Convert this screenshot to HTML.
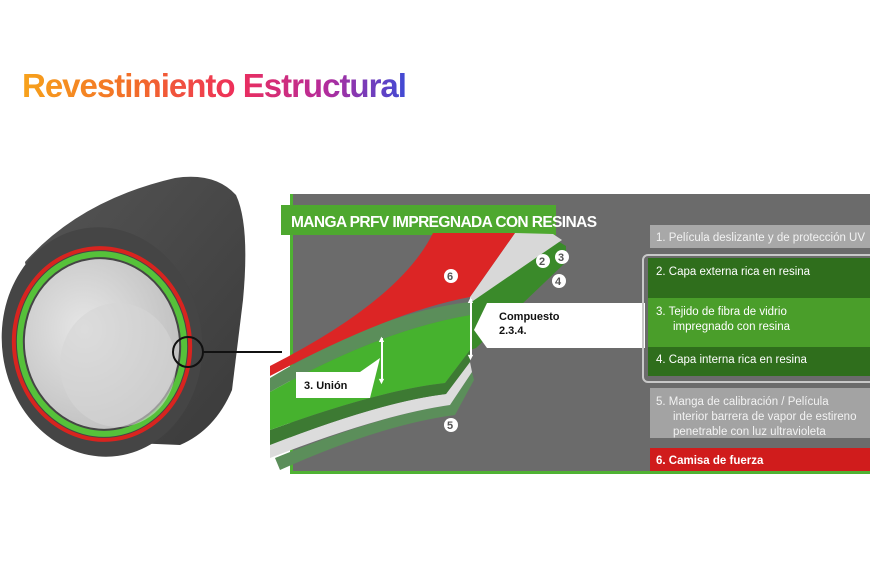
<!DOCTYPE html>
<html><head><meta charset="utf-8"><style>
html,body{margin:0;padding:0;background:#fff}
svg{display:block}
text{font-family:"Liberation Sans",sans-serif}
</style></head><body>
<svg width="870" height="580" viewBox="0 0 870 580" xmlns="http://www.w3.org/2000/svg">
<defs>
<linearGradient id="tg" x1="22" y1="0" x2="408" y2="0" gradientUnits="userSpaceOnUse">
<stop offset="0" stop-color="#f7a21b"/><stop offset="0.3" stop-color="#f26b2a"/><stop offset="0.55" stop-color="#ee2f5a"/><stop offset="0.78" stop-color="#b62b9a"/><stop offset="1" stop-color="#3d4bd6"/></linearGradient>
<radialGradient id="inner" cx="0.4" cy="0.4" r="0.7"><stop offset="0" stop-color="#e6e6e6"/><stop offset="1" stop-color="#bdbdbd"/></radialGradient>
<linearGradient id="body" x1="0" y1="0" x2="1" y2="1"><stop offset="0" stop-color="#555"/><stop offset="1" stop-color="#3a3a3a"/></linearGradient>
</defs>
<rect width="870" height="580" fill="#fff"/>
<text x="22" y="97" font-size="33" font-weight="bold" fill="url(#tg)" letter-spacing="-1">Revestimiento Estructural</text>

<!-- tube -->
<path d="M25 262 Q80 200 175 178 Q215 172 236 195 Q250 225 243 300 L232 390 Q215 430 180 445 L60 440 Z" fill="url(#body)"/>
<ellipse cx="102" cy="342" rx="100" ry="115" transform="rotate(-8 102 342)" fill="#454545"/>
<ellipse cx="102" cy="344" rx="88" ry="96" transform="rotate(-8 102 344)" fill="none" stroke="#d8241f" stroke-width="4"/>
<ellipse cx="102" cy="344" rx="82" ry="90" transform="rotate(-8 102 344)" fill="none" stroke="#56c13a" stroke-width="6"/>
<ellipse cx="102" cy="344" rx="77" ry="85" transform="rotate(-8 102 344)" fill="url(#inner)"/>
<ellipse cx="118" cy="365" rx="58" ry="62" fill="#d6d6d6" opacity="0.6"/>
<circle cx="188" cy="352" r="15" fill="none" stroke="#111" stroke-width="2"/>
<line x1="203" y1="352" x2="282" y2="352" stroke="#111" stroke-width="2"/>

<!-- panel -->
<rect x="290" y="194" width="580" height="280" fill="#6b6b6b"/>
<rect x="290" y="194" width="3" height="280" fill="#4fb233"/>
<rect x="290" y="471" width="580" height="3" fill="#4fb233"/>
<rect x="281" y="205" width="275" height="30" fill="#4ea82f"/>
<text x="291" y="227" font-size="15.5" font-weight="bold" fill="#fff" letter-spacing="-0.6">MANGA PRFV IMPREGNADA CON RESINAS</text>

<!-- layers -->
<path d="M275 458 Q380 415 450 405 L472 372 L474 380 L455 415 Q380 425 280 470 Z" fill="#5b8e5a"/>
<path d="M270 445 Q380 402 446 394 L470 362 L472 372 L450 405 Q380 415 270 458 Z" fill="#dcdcdc"/>
<path d="M270 430 Q380 390 445 383 L470 350 L470 362 L446 394 Q380 402 270 445 Z" fill="#3d7a33"/>
<path d="M270 392 Q380 330 470 315 L470 350 L445 383 Q380 390 270 430 Z" fill="#46b22e"/>
<path d="M270 378 Q380 312 470 302 L470 315 Q380 330 270 392 Z" fill="#5b8e5a"/>
<path d="M470 302 L556 240 L566 246 L566 262 L476 348 L470 350 Z" fill="#3a8a2a"/>
<path d="M470 297 L515 233 L553 234 L562 240 L470 303 Z" fill="#d8d8d8"/>
<path d="M270 366 Q400 300 433 233 L515 233 L470 297 Q390 312 270 376 Z" fill="#dc2525"/>
<g font-size="11" font-weight="bold" fill="#555">
<circle cx="451" cy="276" r="7" fill="#fff"/><text x="447" y="280">6</text>
<circle cx="543" cy="261" r="7" fill="#fff"/><text x="539" y="265">2</text>
<circle cx="562" cy="257" r="7" fill="#fff"/><text x="558" y="261">3</text>
<circle cx="559" cy="281" r="7" fill="#fff"/><text x="555" y="285">4</text>
<circle cx="451" cy="425" r="7" fill="#fff"/><text x="447" y="429">5</text>
</g>
<!-- callouts -->
<polygon points="487,303 645,303 645,348 487,348 474,330" fill="#fff"/>
<line x1="471" y1="299" x2="471" y2="357" stroke="#fff" stroke-width="2"/>
<text x="466" y="303" font-size="9" fill="#fff">▲</text><text x="466" y="360" font-size="9" fill="#fff">▼</text>
<text x="499" y="320" font-size="11" font-weight="bold" fill="#111">Compuesto</text>
<text x="499" y="334" font-size="11" font-weight="bold" fill="#111">2.3.4.</text>
<polygon points="296,372 360,372 380,358 370,398 296,398" fill="#fff"/>
<line x1="382" y1="338" x2="382" y2="381" stroke="#fff" stroke-width="2"/>
<text x="377" y="342" font-size="9" fill="#fff">▲</text><text x="377" y="384" font-size="9" fill="#fff">▼</text>
<text x="304" y="389" font-size="11" font-weight="bold" fill="#111">3.   Unión</text>

<!-- list -->
<rect x="650" y="225" width="220" height="23" fill="#a8a8a8"/>
<text x="656" y="241" font-size="11.5" fill="#f2f2f2">1.  Película deslizante y de protección UV</text>
<rect x="643" y="255" width="235" height="127" rx="5" fill="none" stroke="#c8c8c8" stroke-width="2"/>
<rect x="648" y="258" width="222" height="40" fill="#2f6e1c"/>
<rect x="648" y="298" width="222" height="49" fill="#4a9e2a"/>
<rect x="648" y="347" width="222" height="29" fill="#2f6e1c"/>
<g font-size="11.5" fill="#fff">
<text x="656" y="275">2.  Capa externa rica en resina</text>
<text x="656" y="315">3.  Tejido de fibra de vidrio</text>
<text x="673" y="330">impregnado con resina</text>
<text x="656" y="363">4.  Capa interna rica en resina</text>
</g>
<rect x="650" y="388" width="220" height="50" fill="#a3a3a3"/>
<g font-size="11.5" fill="#f2f2f2">
<text x="656" y="405">5.  Manga de calibración / Película</text>
<text x="673" y="420">interior barrera de vapor de estireno</text>
<text x="673" y="435">penetrable con luz ultravioleta</text>
</g>
<rect x="650" y="448" width="220" height="23" fill="#d01c1c"/>
<text x="656" y="464" font-size="11.5" font-weight="bold" fill="#fff">6.  Camisa de fuerza</text>
</svg>
</body></html>
